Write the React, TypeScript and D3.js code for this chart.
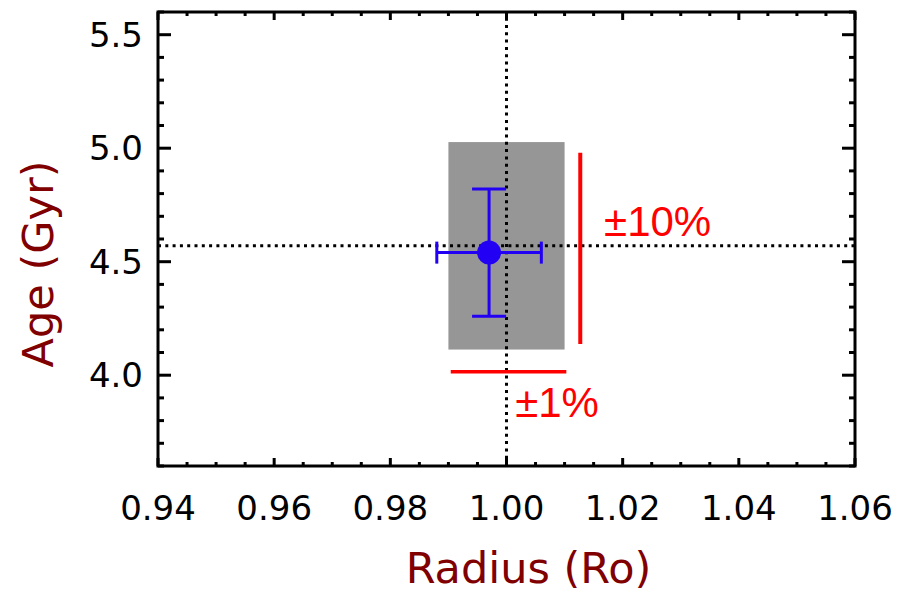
import React from 'react';
import * as d3 from 'd3';

// axis ticks
const xMajorTicks = [0.94, 0.96, 0.98, 1.0, 1.02, 1.04, 1.06];
const yMajorTicks = [4.0, 4.5, 5.0, 5.5];

// reference (solar) values
const refRadius = 1.0;
const refAge = 4.57;

// shaded box: +-1% radius, +-10% age
const boxRadius = [0.99, 1.01];
const boxAge = [4.113, 5.027];

// measured star with errors
const starRadius = 0.997;
const starRadiusErr = 0.009;
const starAge = 4.54;
const starAgeErr = 0.28;

// red scale bars
const tenPctBar = { radius: 1.0127, ages: [4.137, 4.98] };
const onePctBar = { age: 4.015, radii: [0.9904, 1.0103] };
const tenPctLabel = { radius: 1.0168, age: 4.613, text: '±10%' };
const onePctLabel = { radius: 1.0015, age: 3.817, text: '±1%' };

const W = 920;
const H = 594;
const margin = { left: 158, right: 65, top: 12, bottom: 128 };

const App: React.FC = () => {
  const x = d3.scaleLinear().domain([0.94, 1.06]).range([margin.left, W - margin.right]);
  const y = d3.scaleLinear().domain([3.6, 5.6]).range([H - margin.bottom, margin.top]);
  const [x0, x1] = x.range();
  const [y0, y1] = y.range(); // y0 bottom, y1 top

  const xMinor = d3.range(0.94, 1.0601, 0.005);
  const yMinor = d3.range(3.6, 5.601, 0.1);

  const tickFont = "'DejaVu Sans', sans-serif";
  const darkRed = '#800000';
  const blue = '#2200f4';
  const red = '#ff0000';

  return (
    <div style={{ position: 'absolute', left: 0, top: 0 }}>
      <svg width={W} height={H} style={{ display: 'block', background: '#fff' }}>
        {/* grey box */}
        <rect
          x={x(boxRadius[0])}
          y={y(boxAge[1])}
          width={x(boxRadius[1]) - x(boxRadius[0])}
          height={y(boxAge[0]) - y(boxAge[1])}
          fill="#969696"
        />

        {/* dotted reference lines */}
        <line x1={x0} x2={x1} y1={y(refAge)} y2={y(refAge)} stroke="#000" strokeWidth={3} strokeDasharray="3 4.3" />
        <line x1={x(refRadius)} x2={x(refRadius)} y1={y0} y2={y1} stroke="#000" strokeWidth={3} strokeDasharray="3 4.3" />

        {/* red bars */}
        <line x1={x(tenPctBar.radius)} x2={x(tenPctBar.radius)} y1={y(tenPctBar.ages[0])} y2={y(tenPctBar.ages[1])} stroke={red} strokeWidth={4} />
        <line x1={x(onePctBar.radii[0])} x2={x(onePctBar.radii[1])} y1={y(onePctBar.age)} y2={y(onePctBar.age)} stroke={red} strokeWidth={3.5} />
        <text x={x(tenPctLabel.radius)} y={y(tenPctLabel.age)} fill={red} fontSize={42} fontFamily="'Liberation Sans', sans-serif">{tenPctLabel.text}</text>
        <text x={x(onePctLabel.radius)} y={y(onePctLabel.age)} fill={red} fontSize={42} fontFamily="'Liberation Sans', sans-serif">{onePctLabel.text}</text>

        {/* star with error bars */}
        <g stroke={blue} strokeWidth={3}>
          <line x1={x(starRadius)} x2={x(starRadius)} y1={y(starAge - starAgeErr)} y2={y(starAge + starAgeErr)} />
          <line x1={x(starRadius) - 17} x2={x(starRadius) + 17} y1={y(starAge + starAgeErr)} y2={y(starAge + starAgeErr)} />
          <line x1={x(starRadius) - 17} x2={x(starRadius) + 17} y1={y(starAge - starAgeErr)} y2={y(starAge - starAgeErr)} />
          <line x1={x(starRadius - starRadiusErr)} x2={x(starRadius + starRadiusErr)} y1={y(starAge)} y2={y(starAge)} />
          <line x1={x(starRadius - starRadiusErr)} x2={x(starRadius - starRadiusErr)} y1={y(starAge) - 11} y2={y(starAge) + 11} />
          <line x1={x(starRadius + starRadiusErr)} x2={x(starRadius + starRadiusErr)} y1={y(starAge) - 11} y2={y(starAge) + 11} />
        </g>
        <circle cx={x(starRadius)} cy={y(starAge)} r={12} fill={blue} />

        {/* ticks */}
        <g stroke="#000" strokeWidth={3}>
          {xMinor.map((v, i) => {
            const major = xMajorTicks.some(t => Math.abs(t - v) < 1e-6);
            const len = major ? 8 : 4;
            return (
              <g key={'xm' + i}>
                <line x1={x(v)} x2={x(v)} y1={y0} y2={y0 - len} />
                <line x1={x(v)} x2={x(v)} y1={y1} y2={y1 + len} />
              </g>
            );
          })}
          {yMinor.map((v, i) => {
            const major = yMajorTicks.some(t => Math.abs(t - v) < 1e-6);
            const len = major ? 13 : 6;
            return (
              <g key={'ym' + i}>
                <line x1={x0} x2={x0 + len} y1={y(v)} y2={y(v)} />
                <line x1={x1} x2={x1 - len} y1={y(v)} y2={y(v)} />
              </g>
            );
          })}
        </g>

        {/* frame */}
        <rect x={x0} y={y1} width={x1 - x0} height={y0 - y1} fill="none" stroke="#000" strokeWidth={3} />

        {/* tick labels */}
        {xMajorTicks.map(t => (
          <text key={'xl' + t} x={x(t)} y={y0 + 54} textAnchor="middle" fontSize={34} fontFamily={tickFont} fill="#000">
            {t.toFixed(2)}
          </text>
        ))}
        {yMajorTicks.map(t => (
          <text key={'yl' + t} x={x0 - 15} y={y(t) + 12} textAnchor="end" fontSize={34} fontFamily={tickFont} fill="#000">
            {t.toFixed(1)}
          </text>
        ))}

        {/* axis titles */}
        <text x={(x0 + x1) / 2 + 22} y={583} textAnchor="middle" fontSize={43} fontFamily={tickFont} fill={darkRed}>
          Radius (Ro)
        </text>
        <text transform={`translate(53,264) rotate(-90)`} textAnchor="middle" fontSize={43} fontFamily={tickFont} fill={darkRed}>
          Age (Gyr)
        </text>
      </svg>
    </div>
  );
};

export default App;
